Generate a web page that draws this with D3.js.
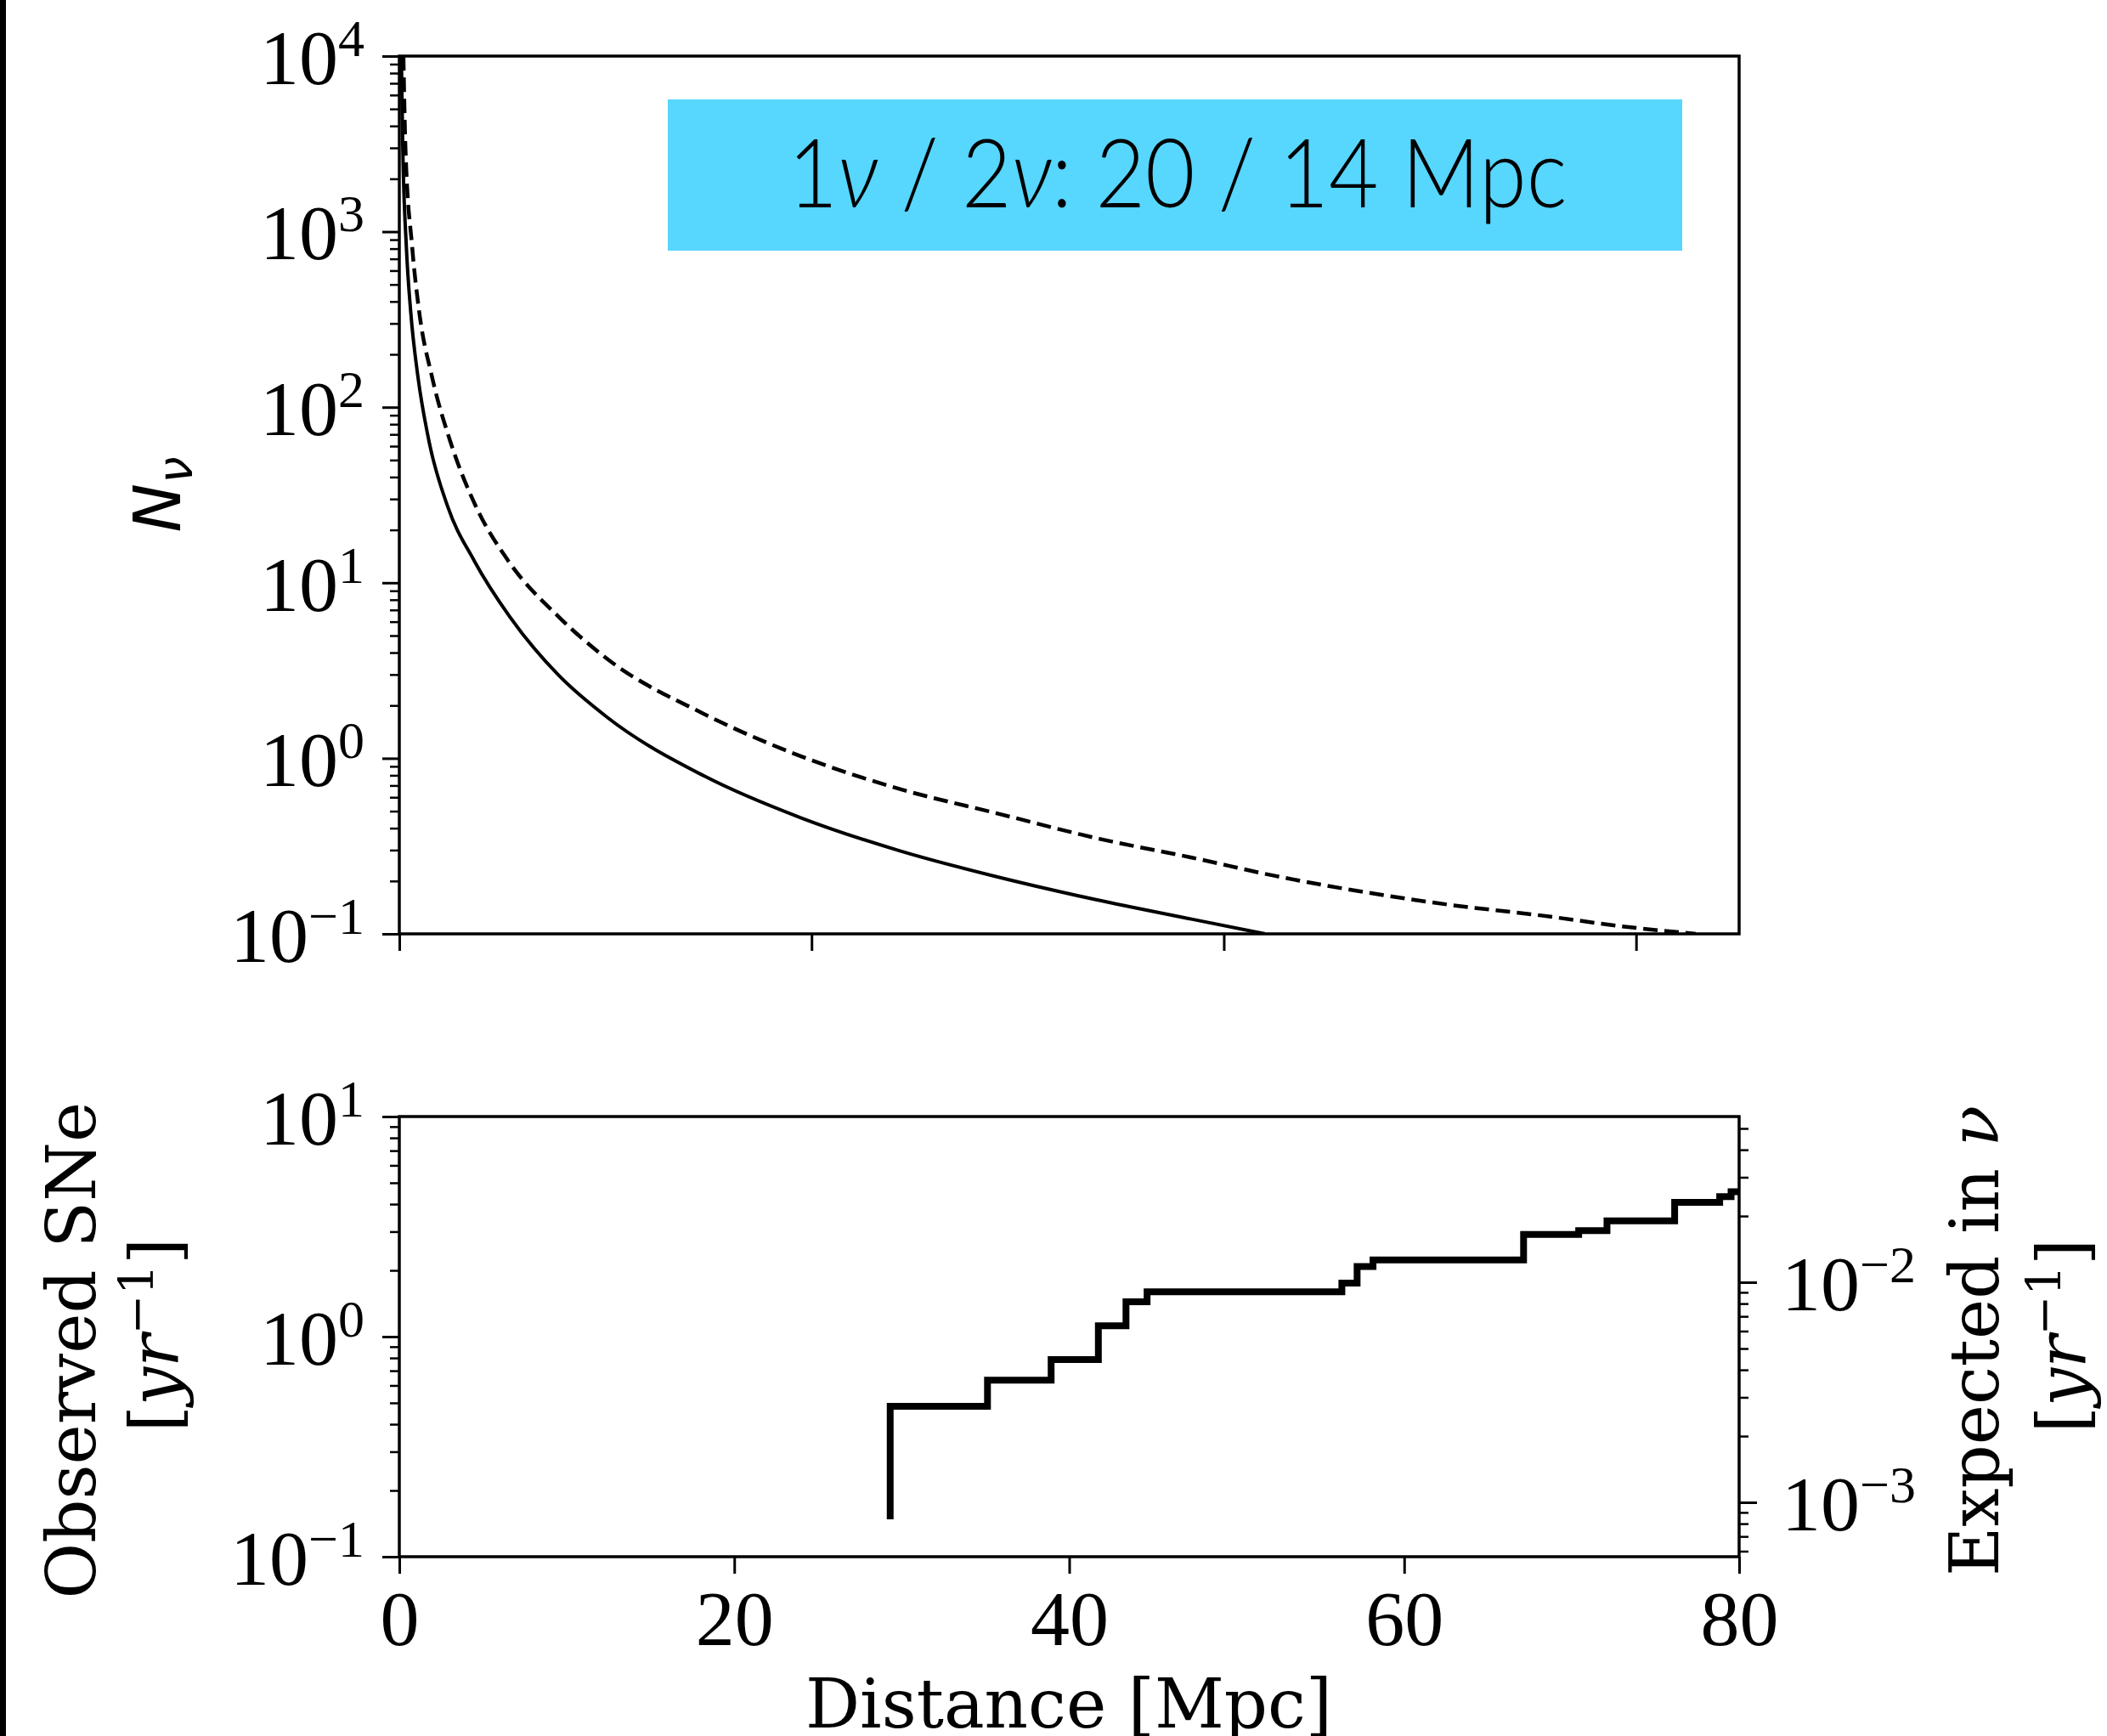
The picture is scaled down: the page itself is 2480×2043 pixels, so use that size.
<!DOCTYPE html>
<html>
<head>
<meta charset="utf-8">
<script src="https://cdn.jsdelivr.net/npm/d3@7"></script>
<style>
  body { margin: 0; background: #fff; }
  svg { display: block; }
</style>
</head>
<body>
<script>
'use strict';

// top panel: expected neutrinos vs distance (Mpc)
const solidDist = [0.1, 0.17, 0.34, 0.55, 0.9, 1.44, 2.34, 3.64, 5.36, 7.73, 10.09, 14.82, 19.55, 24.29, 29.02, 33.75, 38.48, 42.0];
const solidN    = [10000, 2950, 828, 353, 150, 64, 27.3, 13.3, 6.4, 2.97, 1.71, 0.79, 0.455, 0.297, 0.211, 0.157, 0.121, 0.1];
const dashedDist = [0.2, 0.3, 0.62, 0.96, 1.58, 2.47, 3.71, 5.29, 7.73, 10.09, 14.82, 19.55, 24.29, 29.02, 34.0, 38.44, 42.56, 46.82, 51.02, 55.23, 59.43, 62.9];
const dashedN    = [10000, 2950, 828, 353, 150, 64, 27.3, 13.3, 6.4, 3.68, 1.78, 1.02, 0.668, 0.485, 0.347, 0.272, 0.213, 0.173, 0.146, 0.128, 0.110, 0.1];

// bottom panel: cumulative observed SNe per year vs distance (Mpc)
const stepDist = [29.31, 29.31, 35.12, 38.92, 41.74, 43.39, 44.65, 56.28, 57.19, 58.14, 67.13, 70.42, 72.11, 76.15, 78.84, 79.52, 80.0];
const stepSNe  = [0.148, 0.482, 0.634, 0.787, 1.12, 1.44, 1.60, 1.75, 2.08, 2.23, 2.91, 3.03, 3.36, 4.07, 4.33, 4.55, 4.55];

// tick values
const topXTicks = [0, 20, 40, 60];
const topYTicks = [1e-1, 1e0, 1e1, 1e2, 1e3, 1e4];
const botXTicks = [0, 20, 40, 60, 80];
const botYTicks = [1e-1, 1e0, 1e1];
const rightTicks = [1e-3, 1e-2];

// expected nu per observed SN (right axis / left axis)
const nuPerSN = Math.pow(10, -2.247);

const boxLabel = ['1', 'ν', ' / 2', 'ν', ': 20 / 14 Mpc'];

(function() {
  const svg = d3.select('body').append('svg')
    .attr('width', 2480)
    .attr('height', 2043);

  svg.append('rect').attr('width', 2480).attr('height', 2043).attr('fill', '#fff');
  // dark strip at the left edge of the picture
  svg.append('rect').attr('x', 0).attr('y', 0).attr('width', 7).attr('height', 2043).attr('fill', '#000');

  const tickFont = 'Liberation Serif';
  const labelFont = 'DejaVu Serif';

  let isMajor = (d) => Math.abs(Math.log10(d) - Math.round(Math.log10(d))) < 1e-6;

  // write 10^n labels with a raised exponent
  function powerLabels(g) {
    g.selectAll('.tick text').each(function(d) {
      let t = d3.select(this);
      let e = Math.round(Math.log10(d));
      t.text('10');
      t.append('tspan')
        .attr('dy', -33)
        .attr('font-size', 62)
        .text(e < 0 ? '\u2212' + (-e) : String(e));
    });
  }

  function styleAxis(g, size) {
    g.select('.domain').remove();
    g.attr('font-family', tickFont).attr('font-size', size);
    g.selectAll('.tick line').attr('stroke', '#000').attr('stroke-width', 3);
    g.selectAll('.tick text').attr('fill', '#000');
    return g;
  }

  // ---------- top panel ----------
  const xTop = d3.scaleLinear().domain([0, 65]).range([470, 2047]);
  const yTop = d3.scaleLog().domain([0.1, 1e4]).range([1099, 66]);

  svg.append('defs').append('clipPath').attr('id', 'clipTop')
    .append('rect').attr('x', 470).attr('y', 66).attr('width', 1577).attr('height', 1033);

  let topLine = d3.line()
    .x((d) => xTop(d[0]))
    .y((d) => yTop(d[1]))
    .curve(d3.curveMonotoneX);

  svg.append('path')
    .datum(solidDist.map((d, i) => [d, solidN[i]]))
    .attr('clip-path', 'url(#clipTop)')
    .attr('d', topLine)
    .attr('fill', 'none')
    .attr('stroke', '#000')
    .attr('stroke-width', 4);

  svg.append('path')
    .datum(dashedDist.map((d, i) => [d, dashedN[i]]))
    .attr('clip-path', 'url(#clipTop)')
    .attr('d', topLine)
    .attr('fill', 'none')
    .attr('stroke', '#000')
    .attr('stroke-width', 4.5)
    .attr('stroke-dasharray', '17,8');

  // left axis, majors and minors
  let gTopY = svg.append('g').attr('transform', 'translate(470,0)')
    .call(d3.axisLeft(yTop).tickValues(topYTicks).tickSize(20).tickPadding(21).tickFormat(() => '10'));
  styleAxis(gTopY, 92);
  gTopY.selectAll('.tick text').attr('dy', '0.35em');
  powerLabels(gTopY);

  let gTopMinor = svg.append('g').attr('transform', 'translate(470,0)')
    .call(d3.axisLeft(yTop).tickValues(yTop.ticks().filter((d) => !isMajor(d))).tickSize(11).tickFormat(''));
  styleAxis(gTopMinor, 10).selectAll('.tick line').attr('stroke-width', 2.5);

  let gTopX = svg.append('g').attr('transform', 'translate(0,1099)')
    .call(d3.axisBottom(xTop).tickValues(topXTicks).tickSize(20).tickFormat(''));
  styleAxis(gTopX, 10);

  svg.append('rect')
    .attr('x', 470).attr('y', 66).attr('width', 1577).attr('height', 1033)
    .attr('fill', 'none').attr('stroke', '#000').attr('stroke-width', 3.5);

  // highlighted box
  svg.append('rect')
    .attr('x', 786).attr('y', 117).attr('width', 1194).attr('height', 178)
    .attr('fill', '#57d6fe');
  let boxText = svg.append('text')
    .attr('text-anchor', 'middle')
    .attr('font-family', 'Lato, "Open Sans", sans-serif')
    .attr('font-weight', 300)
    .attr('font-size', 112)
    .attr('fill', '#000');
  boxLabel.forEach((s) => {
    boxText.append('tspan')
      .attr('font-style', s === 'ν' ? 'italic' : 'normal')
      .text(s);
  });
  // squeeze the text horizontally to the narrow width of the original
  let natural = boxText.node().getComputedTextLength() || 917;
  boxText.attr('transform', 'translate(1386,244) scale(' + (917 / natural) + ',1)');

  // N_nu label
  let nLabel = svg.append('text')
    .attr('transform', 'translate(212,582) rotate(-90)')
    .attr('text-anchor', 'middle')
    .attr('font-family', 'DejaVu Sans')
    .attr('font-style', 'italic')
    .attr('font-size', 77)
    .attr('fill', '#000');
  nLabel.append('tspan').text('N');
  nLabel.append('tspan').attr('dy', 14).attr('font-size', 56).text('ν');

  // ---------- bottom panel ----------
  const xBot = d3.scaleLinear().domain([0, 80]).range([470, 2047]);
  const yBot = d3.scaleLog().domain([0.1, 10]).range([1832, 1314]);
  const yRight = d3.scaleLog().domain([0.1 * nuPerSN, 10 * nuPerSN]).range([1832, 1314]);

  let stepLine = d3.line()
    .x((d) => xBot(d[0]))
    .y((d) => yBot(d[1]))
    .curve(d3.curveStepAfter);

  svg.append('path')
    .datum(stepDist.map((d, i) => [d, stepSNe[i]]))
    .attr('d', stepLine)
    .attr('fill', 'none')
    .attr('stroke', '#000')
    .attr('stroke-width', 8);

  let gBotY = svg.append('g').attr('transform', 'translate(470,0)')
    .call(d3.axisLeft(yBot).tickValues(botYTicks).tickSize(20).tickPadding(21).tickFormat(() => '10'));
  styleAxis(gBotY, 92);
  gBotY.selectAll('.tick text').attr('dy', '0.35em');
  powerLabels(gBotY);

  let gBotMinor = svg.append('g').attr('transform', 'translate(470,0)')
    .call(d3.axisLeft(yBot).tickValues(yBot.ticks().filter((d) => !isMajor(d))).tickSize(11).tickFormat(''));
  styleAxis(gBotMinor, 10).selectAll('.tick line').attr('stroke-width', 2.5);

  let gRight = svg.append('g').attr('transform', 'translate(2047,0)')
    .call(d3.axisRight(yRight).tickValues(rightTicks).tickSize(21).tickPadding(29).tickFormat(() => '10'));
  styleAxis(gRight, 92);
  gRight.selectAll('.tick text').attr('dy', '0.35em');
  powerLabels(gRight);

  let gRightMinor = svg.append('g').attr('transform', 'translate(2047,0)')
    .call(d3.axisRight(yRight).tickValues(yRight.ticks().filter((d) => !isMajor(d))).tickSize(11).tickFormat(''));
  styleAxis(gRightMinor, 10).selectAll('.tick line').attr('stroke-width', 2.5);

  let gBotX = svg.append('g').attr('transform', 'translate(0,1832)')
    .call(d3.axisBottom(xBot).tickValues(botXTicks).tickSize(20).tickPadding(19).tickFormat(d3.format('d')));
  styleAxis(gBotX, 92);

  svg.append('rect')
    .attr('x', 470).attr('y', 1314).attr('width', 1577).attr('height', 518)
    .attr('fill', 'none').attr('stroke', '#000').attr('stroke-width', 3.5);

  // axis labels
  svg.append('text')
    .attr('x', 1258).attr('y', 2033)
    .attr('text-anchor', 'middle')
    .attr('font-family', labelFont)
    .attr('font-size', 80)
    .attr('fill', '#000')
    .text('Distance [Mpc]');

  svg.append('text')
    .attr('transform', 'translate(112,1589) rotate(-90)')
    .attr('text-anchor', 'middle')
    .attr('font-family', labelFont)
    .attr('font-size', 80)
    .attr('fill', '#000')
    .text('Observed SNe');

  // [yr^-1] unit labels on both sides
  function unitLabel(x, y) {
    let t = svg.append('text')
      .attr('transform', 'translate(' + x + ',' + y + ') rotate(-90)')
      .attr('text-anchor', 'middle')
      .attr('font-family', labelFont)
      .attr('font-size', 80)
      .attr('fill', '#000');
    t.append('tspan').text('[');
    t.append('tspan').attr('font-style', 'italic').text('yr');
    t.append('tspan').attr('dy', -30).attr('font-size', 56).text('\u22121');
    t.append('tspan').attr('dy', 30).text(']');
  }
  unitLabel(210, 1571);
  unitLabel(2455, 1572);

  let expLabel = svg.append('text')
    .attr('transform', 'translate(2352,1578) rotate(-90)')
    .attr('text-anchor', 'middle')
    .attr('font-family', labelFont)
    .attr('font-size', 80)
    .attr('fill', '#000');
  expLabel.append('tspan').text('Expected in ');
  expLabel.append('tspan').attr('font-style', 'italic').text('ν');
})();
</script>
</body>
</html>
